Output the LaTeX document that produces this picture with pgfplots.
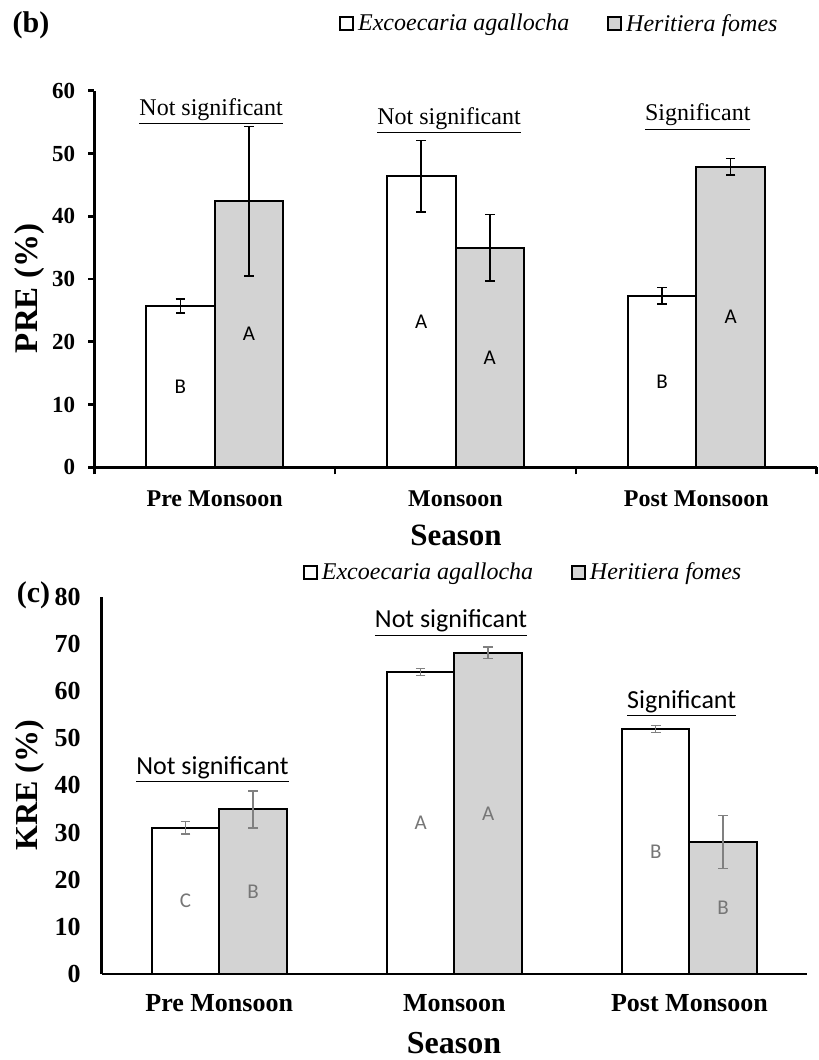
\documentclass[border=0pt]{standalone}
\usepackage{pgfplots}
\usepackage{pgfplotstable}
\pgfplotsset{compat=1.18}
\usepackage{fontspec}
\setmainfont{Liberation Serif}
\newfontfamily\calibri{Carlito}
\definecolor{barg}{RGB}{211,211,211}
\definecolor{lblg}{RGB}{118,118,118}
\definecolor{errg}{RGB}{128,128,128}

\pgfplotstableread{
x y e l
0 25.7 1.1 B
1 46.4 5.7 A
2 27.3 1.3 B
}\PREexc
\pgfplotstableread{
x y e l
0 42.4 11.9 A
1 35.0 5.3 A
2 47.9 1.3 A
}\PREher
\pgfplotstableread{
x y e l
0 31.0 1.3 C
1 64.0 0.75 A
2 51.9 0.75 B
}\KREexc
\pgfplotstableread{
x y e l
0 34.9 3.9 B
1 68.1 1.25 A
2 28.0 5.6 B
}\KREher

\pgfplotsset{
  common/.style={
    scale only axis, clip=false,
    xmin=-0.5, xmax=2.5, ymin=0,
    axis lines*=left,
    /pgf/number format/assume math mode=true,
    xtick={0,1,2}, xticklabels={Pre Monsoon, Monsoon, Post Monsoon},
    xlabel={Season},
    legend columns=2,
  },
  errb/.style={forget plot, draw=none, mark=none,
    error bars/.cd, y dir=both, y explicit,
    error bar style={draw=#1, line width=0.7pt},
    error mark options={draw=#1, line width=0.7pt, rotate=90, mark size=2.4pt}},
  lab/.style 2 args={forget plot, draw=none, mark=none, point meta=explicit symbolic, nodes near coords,
    nodes near coords style={anchor=center, font=#1, text=#2}},
}

\begin{document}
\begin{tikzpicture}
\path[use as bounding box] (0,0) rectangle (409.5pt,-530pt);
\node[font=\bfseries\fontsize{15}{18}\selectfont] at (15.5pt,-12.5pt) {(b)};
\node[font=\bfseries\fontsize{15}{18}\selectfont] at (16.75pt,-297.5pt) {(c)};

% ---------------- panel (b) ----------------
\begin{axis}[common,
  at={(47.15pt,-233.65pt)}, anchor=south west,
  width=361.2pt, height=188.3pt,
  ymax=60, ytick={0,10,...,60},
  axis line style={line width=1.5pt, black},
  tick align=outside,
  major tick length=3pt, minor tick length=3.5pt,
  minor xtick={-0.5,0.5,1.5,2.5},
  major x tick style={draw=none},
  minor x tick style={line width=1.3pt, black},
  ytick style={line width=1.3pt, black},
  yticklabel style={font=\bfseries\fontsize{11.5}{13}\selectfont, xshift=-3pt},
  xticklabel style={font=\bfseries\fontsize{12}{14}\selectfont, yshift=-5pt},
  ylabel={PRE (\%)},
  every axis y label/.style={at={(axis description cs:-0.089,0.475)}, rotate=90, anchor=center,
    font=\bfseries\fontsize{16.5}{20}\selectfont},
  every axis x label/.style={at={(axis description cs:0.5007,-0.182)}, anchor=center,
    font=\bfseries\fontsize{15.5}{18}\selectfont},
  legend style={at={(axis description cs:0.3387,1.177)}, anchor=west, draw=none, fill=none,
    inner sep=0pt, font=\itshape\fontsize{12}{14}\selectfont,
    /tikz/every even column/.append style={column sep=17pt}},
]
\addplot[ybar, bar width=0.285, bar shift=-0.1425, fill=white, draw=black, line width=1pt,
  legend image code/.code={\draw[fill=white, draw=black, line width=0.9pt] (0pt,-3pt) rectangle (6.5pt,3.5pt);}]
  table[x=x, y=y] {\PREexc};
\addlegendentry{Excoecaria agallocha}
\addplot[ybar, bar width=0.285, bar shift=0.1425, fill=barg, draw=black, line width=1pt,
  legend image code/.code={\draw[fill=barg, draw=black, line width=0.9pt] (0pt,-3pt) rectangle (6.5pt,3.5pt);}]
  table[x=x, y=y] {\PREher};
\addlegendentry{Heritiera fomes}
% error bars
\addplot[errb=black] table[x expr=\thisrow{x}-0.1425, y=y, y error=e] {\PREexc};
\addplot[errb=black] table[x expr=\thisrow{x}+0.1425, y=y, y error=e] {\PREher};
% letters at the centre of each bar
\addplot[lab={\calibri\fontsize{10.5}{12}\selectfont}{black}]
  table[x expr=\thisrow{x}-0.1425, y expr=\thisrow{y}/2, meta=l] {\PREexc};
\addplot[lab={\calibri\fontsize{10.5}{12}\selectfont}{black}]
  table[x expr=\thisrow{x}+0.1425, y expr=\thisrow{y}/2, meta=l] {\PREher};
% significance notes
\addplot[lab={\fontsize{12}{14}\selectfont}{black}]
  coordinates {(-0.015,56.7) [\underline{Not significant}]
               (0.973,55.3) [\underline{Not significant}]
               (2.006,55.8) [\underline{Significant}]};
\end{axis}

% ---------------- panel (c) ----------------
\begin{axis}[common,
  at={(50.85pt,-487pt)}, anchor=south west,
  width=352.65pt, height=188.65pt,
  ymax=80, ytick={0,10,...,80},
  axis line style={line width=1.25pt, black},
  major tick length=0pt,
  tick style={draw=none},
  yticklabel style={font=\bfseries\fontsize{13}{15}\selectfont, xshift=-7pt},
  xticklabel style={font=\bfseries\fontsize{13}{15}\selectfont, yshift=-6.5pt},
  ylabel={KRE (\%)},
  every axis y label/.style={at={(axis description cs:-0.1017,0.5)}, rotate=90, anchor=center,
    font=\bfseries\fontsize{16}{19}\selectfont},
  every axis x label/.style={at={(axis description cs:0.4995,-0.183)}, anchor=center,
    font=\bfseries\fontsize{16}{19}\selectfont},
  legend style={at={(axis description cs:0.285,1.063)}, anchor=west, draw=none, fill=none,
    inner sep=0pt, font=\itshape\fontsize{12}{14}\selectfont,
    /tikz/every even column/.append style={column sep=17pt}},
]
\addplot[ybar, bar width=0.287, bar shift=-0.1435, fill=white, draw=black, line width=1pt,
  legend image code/.code={\draw[fill=white, draw=black, line width=0.9pt] (0pt,-3pt) rectangle (6.5pt,3.5pt);}]
  table[x=x, y=y] {\KREexc};
\addlegendentry{Excoecaria agallocha}
\addplot[ybar, bar width=0.287, bar shift=0.1435, fill=barg, draw=black, line width=1pt,
  legend image code/.code={\draw[fill=barg, draw=black, line width=0.9pt] (0pt,-3pt) rectangle (6.5pt,3.5pt);}]
  table[x=x, y=y] {\KREher};
\addlegendentry{Heritiera fomes}
\addplot[errb=errg] table[x expr=\thisrow{x}-0.1435, y=y, y error=e] {\KREexc};
\addplot[errb=errg] table[x expr=\thisrow{x}+0.1435, y=y, y error=e] {\KREher};
\addplot[lab={\calibri\fontsize{10.5}{12}\selectfont}{lblg}]
  table[x expr=\thisrow{x}-0.1435, y expr=\thisrow{y}/2, meta=l] {\KREexc};
\addplot[lab={\calibri\fontsize{10.5}{12}\selectfont}{lblg}]
  table[x expr=\thisrow{x}+0.1435, y expr=\thisrow{y}/2, meta=l] {\KREher};
\addplot[lab={\calibri\fontsize{13}{15}\selectfont}{black}]
  coordinates {(-0.029,43.3) [\underline{Not significant}]
               (0.986,74.4) [\underline{Not significant}]
               (1.967,57.4) [\underline{Significant}]};
\end{axis}
\end{tikzpicture}
\end{document}
